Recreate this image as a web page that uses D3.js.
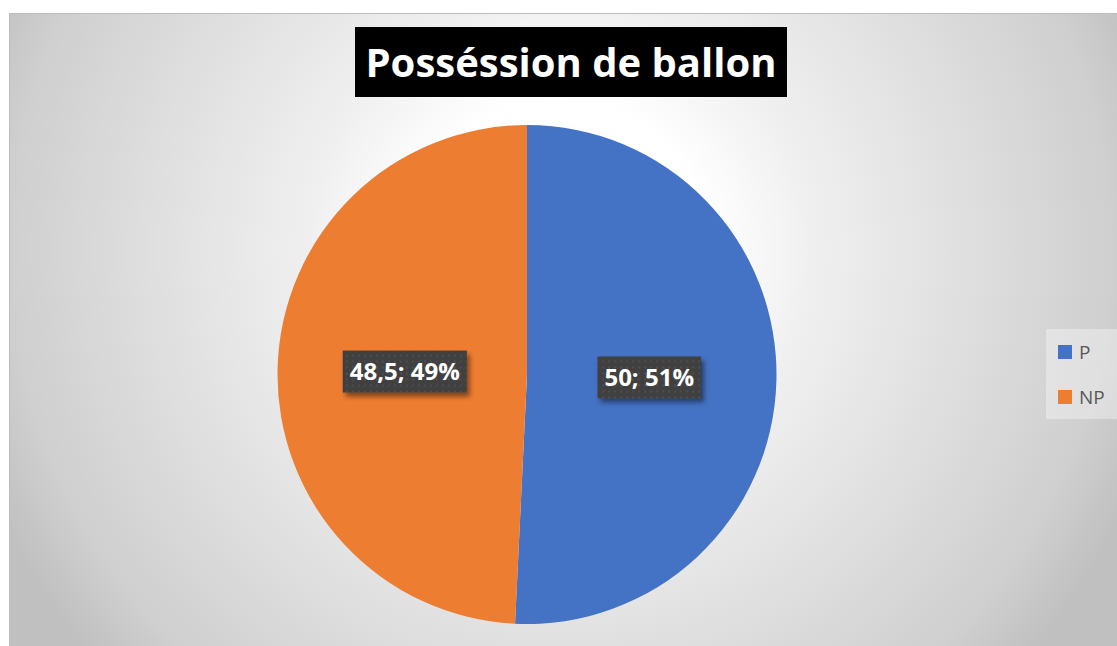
<!DOCTYPE html>
<html><head><meta charset="utf-8">
<script src="https://cdn.jsdelivr.net/npm/d3@7"></script>
<style>html,body{margin:0;padding:0;background:#fff;overflow:hidden}</style>
</head><body>
<script>
const categories = ["P", "NP"];
const values = [50, 48.5];
const percentLabels = ["51%", "49%"];
const valueLabels = ["50", "48,5"];
const colors = ["#4472C4", "#ED7D31"];
const title = "Posséssion de ballon";

const W = 1117, H = 646;
const svg = d3.select("body").append("svg").attr("width", W).attr("height", H);
const defs = svg.append("defs");

const grad = defs.append("radialGradient").attr("id", "bg")
  .attr("gradientUnits", "userSpaceOnUse")
  .attr("cx", 560).attr("cy", 250).attr("r", 620);
[[0, "#ffffff"], [0.24, "#ffffff"], [0.4, "#f0f0f0"], [0.64, "#e0e0e0"], [0.89, "#cfcfcf"], [0.97, "#c4c4c4"], [1, "#c0c0c0"]]
  .forEach(([o, c]) => grad.append("stop").attr("offset", o).attr("stop-color", c));

const pat = defs.append("pattern").attr("id", "dots").attr("patternUnits", "userSpaceOnUse")
  .attr("width", 6).attr("height", 6);
pat.append("rect").attr("width", 6).attr("height", 6).attr("fill", "#404040");
pat.append("rect").attr("x", 1).attr("y", 1).attr("width", 2).attr("height", 2).attr("fill", "#4d4d4d");

const sh = defs.append("filter").attr("id", "shadow").attr("x", "-20%").attr("y", "-30%").attr("width", "150%").attr("height", "170%");
sh.append("feDropShadow").attr("dx", 3).attr("dy", 4).attr("stdDeviation", 2.5).attr("flood-color", "#000").attr("flood-opacity", 0.45);

// chart area
svg.append("rect").attr("x", 9.5).attr("y", 13.5).attr("width", W - 9).attr("height", H - 13)
  .attr("fill", "url(#bg)").attr("stroke", "#bcbcbc").attr("stroke-width", 1);

// title
const tg = svg.append("g");
tg.append("rect").attr("x", 355).attr("y", 27).attr("width", 432).attr("height", 70).attr("fill", "#000");
tg.append("text").attr("x", 571).attr("y", 77).attr("text-anchor", "middle")
  .attr("font-family", "'Open Sans', sans-serif").attr("font-weight", 700).attr("font-size", 40)
  .attr("fill", "#fff").text(title);

// pie
const cx = 527, cy = 374.5, R = 249.5;
const pie = d3.pie().sort(null).value(d => d)(values);
const arc = d3.arc().innerRadius(0).outerRadius(R);
const g = svg.append("g").attr("transform", `translate(${cx},${cy})`);
g.selectAll("path.slice").data(pie).join("path").attr("class", "slice")
  .attr("d", arc).attr("fill", (d, i) => colors[i]);

// data labels
const labelArc = d3.arc().innerRadius(R * 0.49).outerRadius(R * 0.49);
pie.forEach((d, i) => {
  const [lx, ly] = labelArc.centroid(d);
  const lg = g.append("g").attr("transform", `translate(${lx},${ly})`);
  const rect = lg.append("rect").attr("fill", "url(#dots)").attr("filter", "url(#shadow)");
  const t = lg.append("text").attr("text-anchor", "middle").attr("dy", "0.36em")
    .attr("font-family", "'Open Sans', sans-serif").attr("font-weight", 700).attr("font-size", 24)
    .attr("fill", "#fff").text(`${valueLabels[i]}; ${percentLabels[i]}`);
  const bb = t.node().getBBox();
  const padX = 7, h = 42;
  rect.attr("x", bb.x - padX).attr("y", -h / 2).attr("width", bb.width + 2 * padX).attr("height", h);
});

// legend
const lgd = svg.append("g");
lgd.append("rect").attr("x", 1046).attr("y", 329).attr("width", 80).attr("height", 90)
  .attr("fill", "#ffffff").attr("fill-opacity", 0.35);
categories.forEach((c, i) => {
  const y = 345 + i * 45;
  lgd.append("rect").attr("x", 1058).attr("y", y).attr("width", 14).attr("height", 14).attr("fill", colors[i]);
  lgd.append("text").attr("x", 1079).attr("y", y + 14).attr("font-family", "'Open Sans', sans-serif")
    .attr("font-size", 19).attr("fill", "#595959").text(c);
});
</script>
</body></html>
